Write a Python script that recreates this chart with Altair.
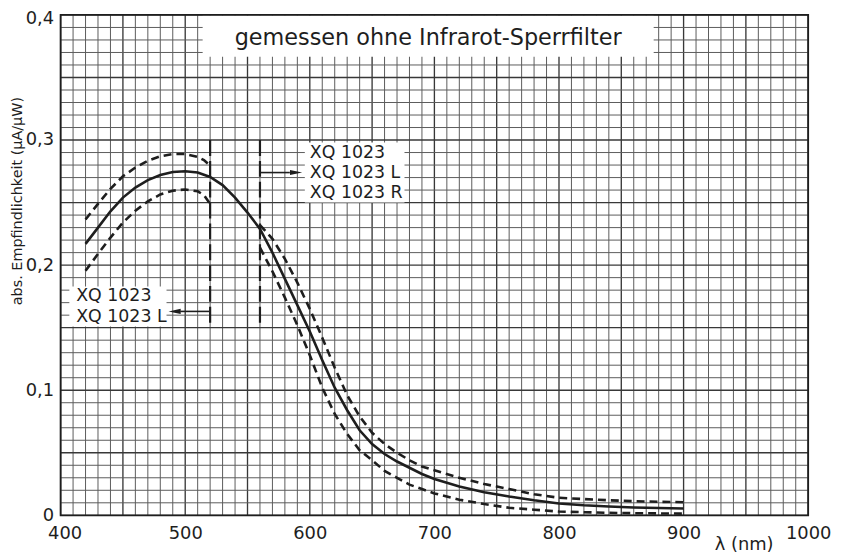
import altair as alt
import pandas as pd

# ---------------- data ----------------
lam_solid = [420, 430, 440, 450, 460, 470, 480, 490, 500, 510, 520, 530, 540, 550,
             560, 570, 580, 590, 600, 610, 620, 630, 640, 650, 660, 670, 680, 690,
             700, 720, 740, 760, 780, 800, 820, 840, 860, 880, 900]
v_solid = [0.217, 0.230, 0.243, 0.254, 0.262, 0.268, 0.272, 0.2745, 0.275, 0.274,
           0.2705, 0.264, 0.254, 0.242, 0.229, 0.210, 0.189, 0.168, 0.147, 0.124,
           0.102, 0.084, 0.068, 0.057, 0.049, 0.043, 0.038, 0.033, 0.029, 0.023,
           0.0185, 0.015, 0.012, 0.0095, 0.008, 0.007, 0.0063, 0.0058, 0.0055]

lam_seg1 = [420, 430, 440, 450, 460, 470, 480, 490, 500, 510, 515, 520]
v_upper1 = [0.2365, 0.249, 0.261, 0.271, 0.278, 0.2835, 0.287, 0.2888, 0.2888,
            0.2865, 0.284, 0.2795]
v_lower1 = [0.1955, 0.209, 0.222, 0.234, 0.2435, 0.251, 0.2565, 0.2595, 0.2605,
            0.259, 0.256, 0.249]

lam_seg2 = [560, 570, 580, 590, 600, 610, 620, 630, 640, 650, 660, 670, 680, 690,
            700, 720, 740, 760, 780, 800, 820, 840, 860, 880, 900]
v_upper2 = [0.232, 0.221, 0.205, 0.186, 0.165, 0.142, 0.118, 0.096, 0.079, 0.066,
            0.057, 0.050, 0.044, 0.039, 0.036, 0.030, 0.025, 0.021, 0.0168, 0.014,
            0.013, 0.012, 0.0113, 0.0108, 0.0105]
v_lower2 = [0.214, 0.195, 0.174, 0.152, 0.128, 0.102, 0.081, 0.065, 0.052, 0.044,
            0.0355, 0.030, 0.0245, 0.021, 0.0175, 0.0125, 0.009, 0.006, 0.0045,
            0.003, 0.0025, 0.002, 0.0017, 0.0015, 0.0013]

# cut-off markers (vertical dashed lines) and arrows
cut_lam = [520, 560]
cut_top = [0.300, 0.300]
cut_bottom = [0.150, 0.153]

arrow_from = [560, 520]
arrow_to = [584, 496]
arrow_v = [0.274, 0.163]
arrow_head_lam = [589, 491.5]
arrow_head_shape = ["M -1 -0.42 L 1 0 L -1 0.42 Z", "M 1 -0.42 L -1 0 L 1 0.42 Z"]

# annotation texts
title_text = "gemessen ohne Infrarot-Sperrfilter"
labels_right = ["XQ 1023", "XQ 1023 L", "XQ 1023 R"]
labels_right_v = [0.290, 0.274, 0.258]
labels_left = ["XQ 1023", "XQ 1023 L"]
labels_left_v = [0.1756, 0.1585]

# white boxes behind texts: lam0, lam1, v0, v1
boxes_lam0 = [514, 596, 407]
boxes_lam1 = [876, 676, 485]
boxes_v0 = [0.3665, 0.250, 0.151]
boxes_v1 = [0.3995, 0.298, 0.183]

# graph-paper grid and labelled ticks
x_grid = list(range(400, 1001, 10))
y_grid = [round(i * 0.01, 2) for i in range(41)]
x_ticks = [400, 500, 600, 700, 800, 900, 1000]
y_ticks = [0.0, 0.1, 0.2, 0.3, 0.4]

# ---------------- chart ----------------
W, H = 753, 504
FONT = "DejaVu Sans"
INK = "#1e1e1e"

xscale = alt.Scale(domain=[400, 1000], nice=False, zero=False)
yscale = alt.Scale(domain=[0, 0.4], nice=False, zero=False)

xaxis = alt.Axis(
    values=x_ticks, format="d", grid=False, ticks=False, domain=False,
    labelFlush=False, labelOverlap=False,
    labelOffset={"condition": {"test": "datum.value == 400", "value": 4}, "value": 0},
    labelFont=FONT, labelFontSize=18, labelColor=INK, labelPadding=9,
    title="λ (nm)", titleFont=FONT, titleFontSize=18, titleFontWeight="normal",
    titleColor=INK, titleX=688, titleY=29, titleAlign="center", titleBaseline="middle",
)
yaxis = alt.Axis(
    values=y_ticks,
    labelExpr="datum.value == 0 ? '0' : replace(format(datum.value, '.1f'), '.', ',')",
    grid=False, ticks=False, domain=False, labelOverlap=False, labelFlush=False,
    labelOffset={"condition": {"test": "datum.value >= 0.39", "value": 4},
                 "value": {"expr": "datum.value == 0 ? -2 : 0"}} if False else
    {"condition": {"test": "datum.value >= 0.39", "value": 4}, "value": 0},
    labelFont=FONT, labelFontSize=18, labelColor=INK, labelPadding=7,
    title="abs. Empfindlichkeit (µA/µW)", titleFont=FONT, titleFontSize=14.5,
    titleFontWeight="normal", titleColor=INK, titleX=-43, titleY=187,
    titleAngle=270, titleAlign="center", titleBaseline="middle",
)


def X(field):
    return alt.X(field, type="quantitative", scale=xscale, axis=xaxis)


def Y(field):
    return alt.Y(field, type="quantitative", scale=yscale, axis=yaxis)


xgrid_df = pd.DataFrame({"lam": x_grid})
xgrid_df["major"] = [g % 50 == 0 for g in x_grid]
ygrid_df = pd.DataFrame({"v": y_grid})
ygrid_df["major"] = [round(g * 100) % 5 == 0 for g in y_grid]

solid_df = pd.DataFrame({"lam": lam_solid, "v": v_solid})
dash_df = pd.concat([
    pd.DataFrame({"lam": lam_seg1, "v": v_upper1, "seg": "u1"}),
    pd.DataFrame({"lam": lam_seg1, "v": v_lower1, "seg": "l1"}),
    pd.DataFrame({"lam": lam_seg2, "v": v_upper2, "seg": "u2"}),
    pd.DataFrame({"lam": lam_seg2, "v": v_lower2, "seg": "l2"}),
], ignore_index=True)
dash_df["idx"] = range(len(dash_df))

cut_df = pd.DataFrame({"lam": cut_lam, "v": cut_top, "v2": cut_bottom})
arrow_df = pd.DataFrame({"lam": arrow_from, "lam2": arrow_to, "v": arrow_v})
head_df = pd.DataFrame({"lam": arrow_head_lam, "v": arrow_v, "shape": arrow_head_shape})
box_df = pd.DataFrame({"lam": boxes_lam0, "lam2": boxes_lam1, "v": boxes_v0, "v2": boxes_v1})
title_df = pd.DataFrame({"lam": [(boxes_lam0[0] + boxes_lam1[0]) / 2], "v": [0.3815],
                         "t": [title_text]})
lab_df = pd.concat([
    pd.DataFrame({"lam": 600, "v": labels_right_v, "t": labels_right}),
    pd.DataFrame({"lam": 412.5, "v": labels_left_v, "t": labels_left}),
], ignore_index=True)

grid_w = alt.condition("datum.major", alt.value(1.35), alt.value(1.0))
grid_c = alt.condition("datum.major", alt.value("#383838"), alt.value("#5c5c5c"))

vgrid = alt.Chart(xgrid_df).mark_rule().encode(
    x=X("lam"), strokeWidth=grid_w, color=grid_c)
hgrid = alt.Chart(ygrid_df).mark_rule().encode(
    y=Y("v"), strokeWidth=grid_w, color=grid_c)

solid = alt.Chart(solid_df).mark_line(color=INK, strokeWidth=2.6).encode(
    x=X("lam"), y=Y("v"))

dashed = alt.Chart(dash_df).mark_line(color=INK, strokeWidth=2.6, strokeDash=[8, 5]).encode(
    x=X("lam"), y=Y("v"), detail="seg:N", order="idx:Q")

boxes = alt.Chart(box_df).mark_rect(fill="white").encode(
    x=X("lam"), x2="lam2", y=Y("v"), y2="v2")

cuts = alt.Chart(cut_df).mark_rule(color=INK, strokeWidth=2.2, strokeDash=[16, 5]).encode(
    x=X("lam"), y=Y("v"), y2="v2")

arrows = alt.Chart(arrow_df).mark_rule(color=INK, strokeWidth=1.6).encode(
    x=X("lam"), x2="lam2", y=Y("v"))

heads = alt.Chart(head_df).mark_point(filled=True, color=INK, opacity=1, size=150,
                                      strokeWidth=0).encode(
    x=X("lam"), y=Y("v"), shape=alt.Shape("shape:N", scale=None, legend=None))

title = alt.Chart(title_df).mark_text(font=FONT, fontSize=22.5, color=INK, align="center",
                                      baseline="middle").encode(
    x=X("lam"), y=Y("v"), text="t:N")

labels = alt.Chart(lab_df).mark_text(font=FONT, fontSize=17.5, color=INK, align="left",
                                     baseline="middle").encode(
    x=X("lam"), y=Y("v"), text="t:N")

frame = alt.Chart(pd.DataFrame({"a": [0]})).mark_rect(
    filled=False, stroke=INK, strokeWidth=1.8).encode(
    x=alt.datum(400, scale=xscale), x2=alt.datum(1000),
    y=alt.datum(0, scale=yscale), y2=alt.datum(0.4))

chart = alt.layer(
    vgrid, hgrid, boxes, solid, dashed, cuts, arrows, heads, title, labels, frame
).properties(
    width=W, height=H,
    autosize=alt.AutoSizeParams(type="none"),
    padding={"left": 53, "top": 5, "right": 25, "bottom": 40},
    background="white",
).configure_view(stroke=None)

chart.save("out.html", embed_options={"renderer": "svg", "actions": False})
